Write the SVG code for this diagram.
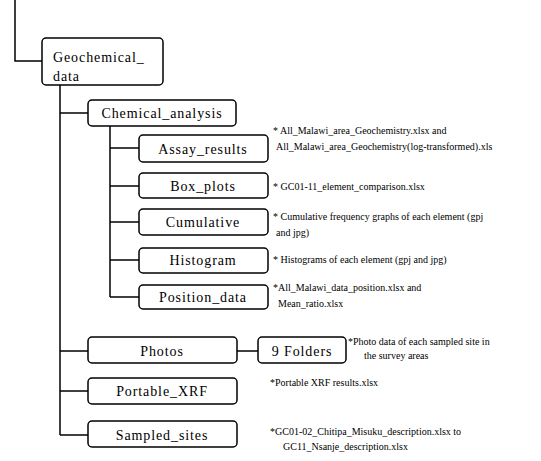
<svg xmlns="http://www.w3.org/2000/svg" width="541" height="461" viewBox="0 0 541 461">
<defs>
<rect id="boxShape" width="0" height="0"/>
</defs>
<rect width="541" height="461" fill="#fff"/>
<g id="connectors" fill="none" stroke="#000" stroke-width="1.5">
<path d="M15,0 V61 H42"/>
<path d="M60,85 V435"/>
<path d="M60,113 H88"/>
<path d="M60,351 H88"/>
<path d="M60,391 H88"/>
<path d="M60,435 H88"/>
<path d="M110,126 V297"/>
<path d="M110,148 H139"/>
<path d="M110,186 H139"/>
<path d="M110,222 H139"/>
<path d="M110,260 H139"/>
<path d="M110,297 H139"/>
<path d="M237,351 H258"/>
</g>
<g id="geochemical_data">
<rect x="42" y="38" width="121" height="47" rx="4" fill="#fff" stroke="#000" stroke-width="1.5"/>
<text x="53" y="62" font-family="Liberation Serif" font-size="14" letter-spacing="0.9">Geochemical_</text>
<text x="53" y="81" font-family="Liberation Serif" font-size="14" letter-spacing="0.9">data</text>
</g>
<g id="chemical_analysis">
<rect x="88" y="100" width="148" height="26" rx="4" fill="#fff" stroke="#000" stroke-width="1.5"/>
<text x="162" y="118" font-family="Liberation Serif" font-size="14" letter-spacing="0.9" text-anchor="middle">Chemical_analysis</text>
</g>
<g id="assay_results">
<rect x="139" y="135" width="129" height="27" rx="4" fill="#fff" stroke="#000" stroke-width="1.5"/>
<text x="203" y="154" font-family="Liberation Serif" font-size="14" letter-spacing="0.9" text-anchor="middle">Assay_results</text>
</g>
<g id="box_plots">
<rect x="139" y="173" width="129" height="25" rx="4" fill="#fff" stroke="#000" stroke-width="1.5"/>
<text x="203" y="191" font-family="Liberation Serif" font-size="14" letter-spacing="0.9" text-anchor="middle">Box_plots</text>
</g>
<g id="cumulative">
<rect x="139" y="209" width="129" height="26" rx="4" fill="#fff" stroke="#000" stroke-width="1.5"/>
<text x="203" y="227" font-family="Liberation Serif" font-size="14" letter-spacing="0.9" text-anchor="middle">Cumulative</text>
</g>
<g id="histogram">
<rect x="139" y="248" width="129" height="25" rx="4" fill="#fff" stroke="#000" stroke-width="1.5"/>
<text x="203" y="265" font-family="Liberation Serif" font-size="14" letter-spacing="0.9" text-anchor="middle">Histogram</text>
</g>
<g id="position_data">
<rect x="139" y="285" width="129" height="24" rx="4" fill="#fff" stroke="#000" stroke-width="1.5"/>
<text x="203" y="302" font-family="Liberation Serif" font-size="14" letter-spacing="0.9" text-anchor="middle">Position_data</text>
</g>
<g id="photos">
<rect x="88" y="337" width="149" height="26" rx="4" fill="#fff" stroke="#000" stroke-width="1.5"/>
<text x="162" y="356" font-family="Liberation Serif" font-size="14" letter-spacing="0.9" text-anchor="middle">Photos</text>
</g>
<g id="nine_folders">
<rect x="258" y="337" width="88" height="26" rx="4" fill="#fff" stroke="#000" stroke-width="1.5"/>
<text x="302" y="356" font-family="Liberation Serif" font-size="14" letter-spacing="0.9" text-anchor="middle">9 Folders</text>
</g>
<g id="portable_xrf">
<rect x="88" y="378" width="149" height="26" rx="4" fill="#fff" stroke="#000" stroke-width="1.5"/>
<text x="162" y="396" font-family="Liberation Serif" font-size="14" letter-spacing="0.9" text-anchor="middle">Portable_XRF</text>
</g>
<g id="sampled_sites">
<rect x="88" y="421" width="149" height="26" rx="4" fill="#fff" stroke="#000" stroke-width="1.5"/>
<text x="162" y="440" font-family="Liberation Serif" font-size="14" letter-spacing="0.9" text-anchor="middle">Sampled_sites</text>
</g>
<g id="notes">
<text x="273" y="134" font-family="Liberation Serif" font-size="10">* All_Malawi_area_Geochemistry.xlsx and</text>
<text x="276" y="150" font-family="Liberation Serif" font-size="10">All_Malawi_area_Geochemistry(log-transformed).xls</text>
<text x="273" y="190" font-family="Liberation Serif" font-size="10">* GC01-11_element_comparison.xlsx</text>
<text x="273" y="220" font-family="Liberation Serif" font-size="10">* Cumulative frequency graphs of each element (gpj</text>
<text x="276" y="236" font-family="Liberation Serif" font-size="10">and jpg)</text>
<text x="273" y="263" font-family="Liberation Serif" font-size="10">* Histograms of each element (gpj and jpg)</text>
<text x="273" y="291" font-family="Liberation Serif" font-size="10">*All_Malawi_data_position.xlsx and</text>
<text x="278" y="307" font-family="Liberation Serif" font-size="10">Mean_ratio.xlsx</text>
<text x="348" y="345" font-family="Liberation Serif" font-size="10">*Photo data of each sampled site in</text>
<text x="364" y="359" font-family="Liberation Serif" font-size="10">the survey areas</text>
<text x="270" y="386" font-family="Liberation Serif" font-size="10">*Portable XRF results.xlsx</text>
<text x="270" y="435" font-family="Liberation Serif" font-size="10">*GC01-02_Chitipa_Misuku_description.xlsx    to</text>
<text x="283" y="450" font-family="Liberation Serif" font-size="10">GC11_Nsanje_description.xlsx</text>
</g>
</svg>
